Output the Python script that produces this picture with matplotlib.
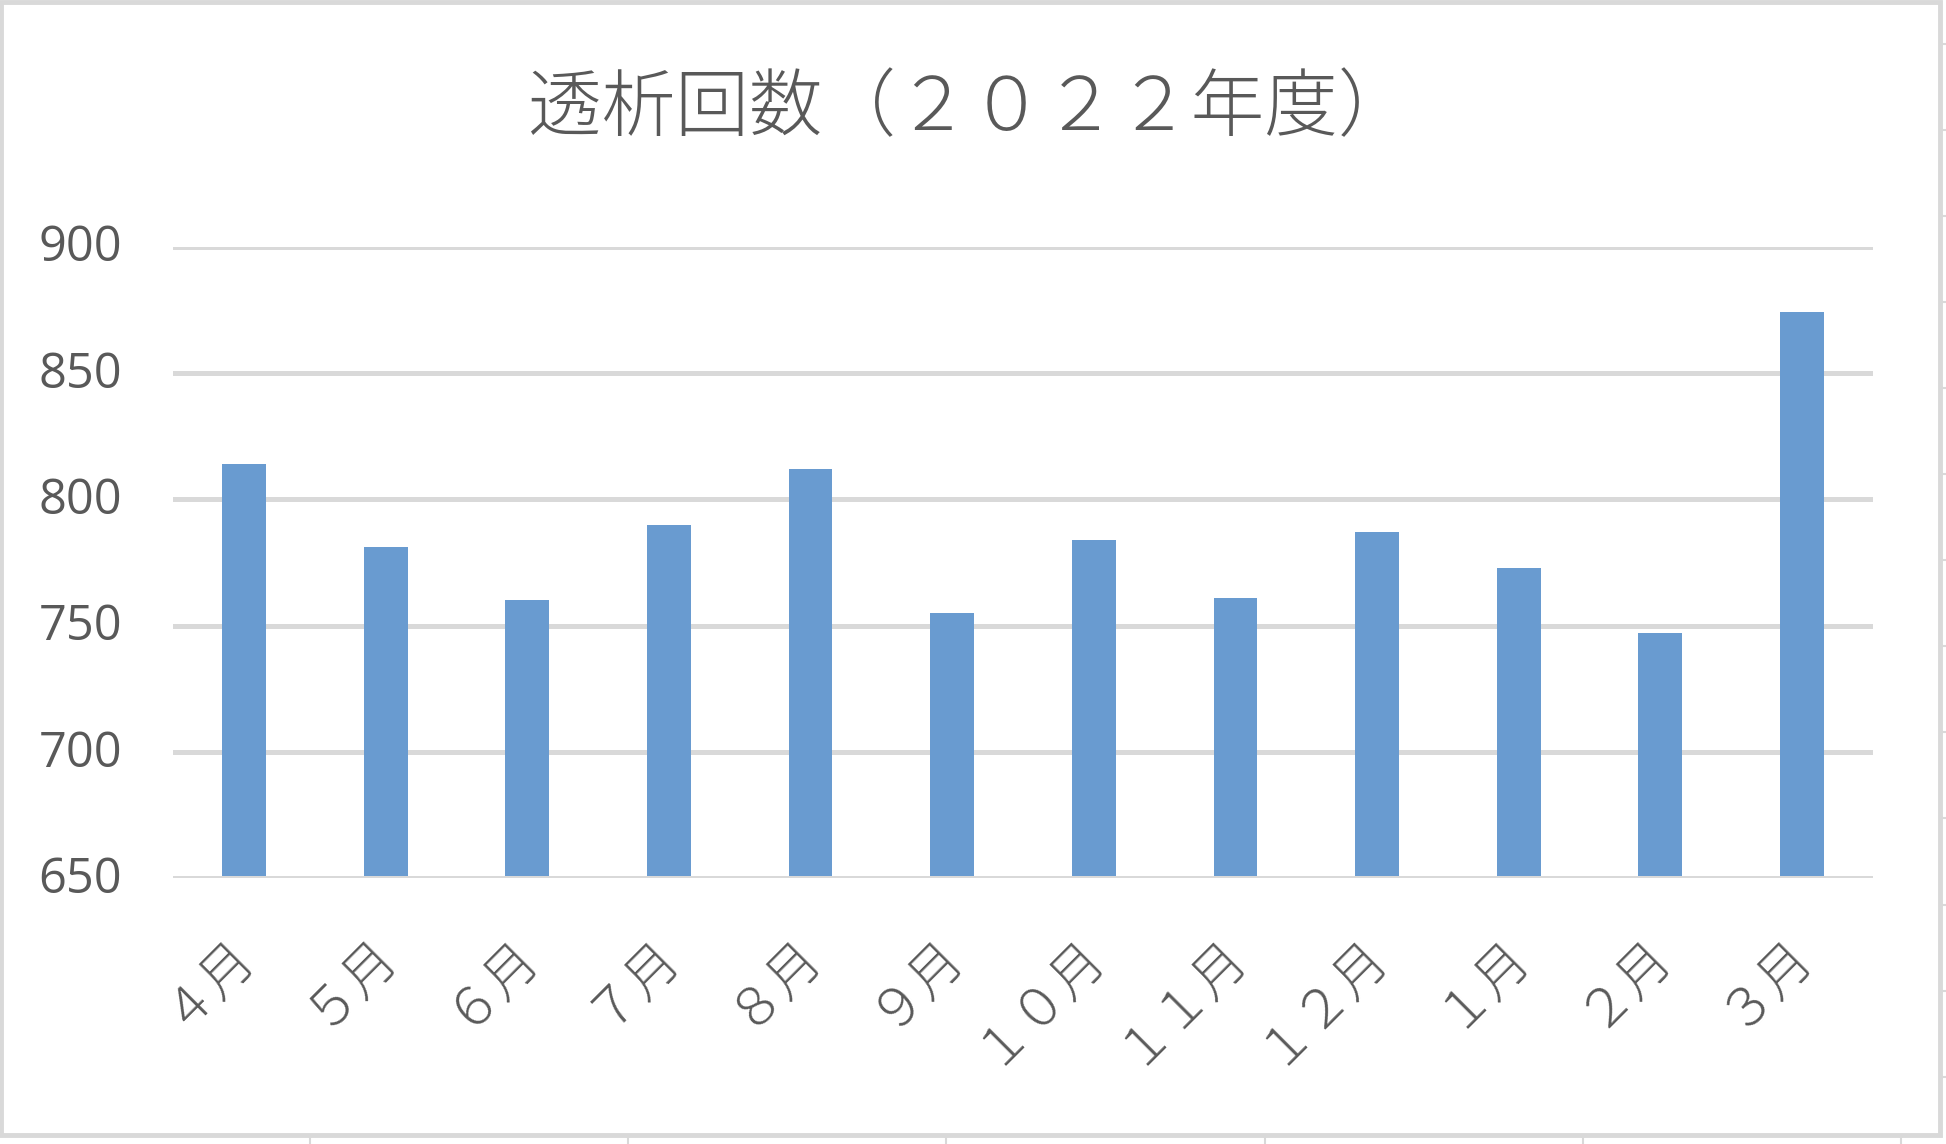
import matplotlib
matplotlib.use("Agg")
from matplotlib import pyplot as plt
from matplotlib.lines import Line2D
from matplotlib.patches import Rectangle
from matplotlib.transforms import ScaledTranslation
import numpy as np

# data
months = ["４月", "５月", "６月", "７月", "８月", "９月",
          "１０月", "１１月", "１２月", "１月", "２月", "３月"]
counts = [814, 781, 760, 790, 812, 755, 784, 761, 787, 773, 747, 874]
yticks = [650, 700, 750, 800, 850, 900]
title = "透析回数（２０２２年度）"

W, H = 1946, 1144
bar_color = "#699BD0"
grid_color = "#D9D9D9"
text_color = "#595959"
cjk = ["Noto Sans CJK JP", "DejaVu Sans"]

fig = plt.figure(figsize=(W / 100, H / 100), dpi=100)
fig.patch.set_facecolor("white")

# plot area in pixel terms of the reference
ax = fig.add_axes([173.3 / W, 1 - 878.3 / H, 1699.4 / W, (878.3 - 246.7) / H])

x = np.arange(len(months))
ax.bar(x, np.array(counts) - yticks[0], bottom=yticks[0], width=0.309,
       color=bar_color, zorder=2)
ax.axhline(yticks[0], color=grid_color, linewidth=3.6, zorder=3)

ax.set_xlim(-0.5, len(months) - 0.5)
ax.set_ylim(yticks[0], yticks[-1])
ax.set_yticks(yticks)
ax.set_yticklabels([str(v) for v in yticks], family="Open Sans",
                   fontsize=35, color=text_color)
ax.grid(axis="y", color=grid_color, linewidth=3.6, zorder=0)
ax.set_axisbelow(True)

ax.set_xticks(x)
ax.set_xticklabels(months, rotation=45, ha="right", va="center",
                   rotation_mode="anchor", family=cjk, fontsize=38,
                   fontweight="light", color=text_color)
ax.tick_params(axis="x", length=0, pad=47)
ax.tick_params(axis="y", length=0, pad=37)
for s in ax.spines.values():
    s.set_visible(False)

# nudge the y labels up a little, as in the original
up = ScaledTranslation(0, 4 / 100, fig.dpi_scale_trans)
for lab in ax.get_yticklabels():
    lab.set_transform(lab.get_transform() + up)

fig.text(970 / W, 1 - 110 / H, title, ha="center", va="center",
         family=cjk, fontsize=53, fontweight="light", color=text_color)

# chart border and the spreadsheet cell lines around it
def px(xp, yp):
    return xp / W, 1 - yp / H

fig.add_artist(Rectangle(px(1, 1135), 1939 / W, 1133 / H,
                         transform=fig.transFigure, fill=False,
                         edgecolor=grid_color, linewidth=3.5))
for k in range(13):
    yy = 43.5 + 86.1 * k
    fig.add_artist(Line2D([1941 / W, 1.0], [1 - yy / H] * 2,
                          transform=fig.transFigure, color=grid_color, linewidth=1.5))
for k in range(6):
    xx = 310 + 318.2 * k
    fig.add_artist(Line2D([xx / W] * 2, [0.0, 1 - 1137 / H],
                          transform=fig.transFigure, color=grid_color, linewidth=1.5))

fig.savefig("out.png", dpi=100, facecolor="white")
